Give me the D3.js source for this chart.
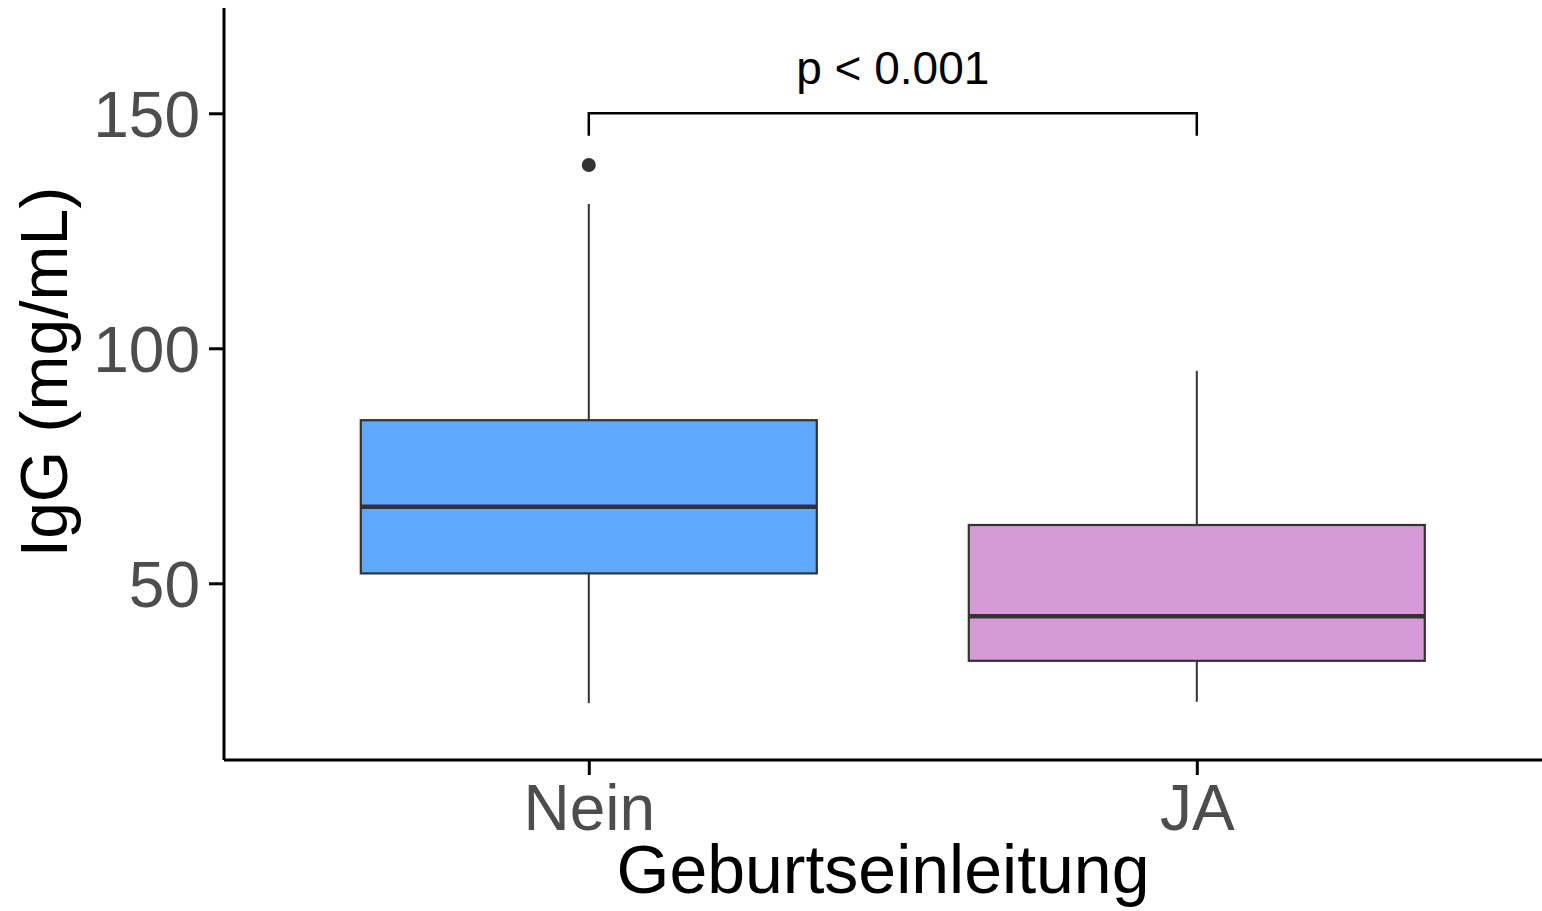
<!DOCTYPE html>
<html>
<head>
<meta charset="utf-8">
<script src="https://cdn.jsdelivr.net/npm/d3@7"></script>
<style>
  body { margin: 0; background: #fff; }
  svg { display: block; font-family: "Liberation Sans", Arial, sans-serif; }
</style>
</head>
<body>
<svg id="chart" width="1542" height="911"></svg>
<script>
// data
var groups = ["Nein", "JA"];
var fills = ["#5EA8FE", "#D69AD6"];
var q1 = [52.1, 33.5];
var median = [66.3, 43.0];
var q3 = [84.7, 62.4];
var whiskerLow = [24.5, 24.8];
var whiskerHigh = [130.7, 95.2];
var outliers = [[139.0], []];
var yTicks = [50, 100, 150];
var pLabel = "p < 0.001";
var bracketY = 150, bracketEnd = 145.2;

var svg = d3.select("#chart");

var x = d3.scalePoint()
  .domain(groups)
  .range([224, 1561.6])
  .padding(0.6);

var y = d3.scaleLinear()
  .domain([12.4, 172.4])
  .range([760, 8]);

var boxW = x.step() * 0.75;

var boxes = groups.map(function(g, i){
  return { g: g, fill: fills[i], q1: q1[i], med: median[i], q3: q3[i],
           lo: whiskerLow[i], hi: whiskerHigh[i], out: outliers[i] };
});

var gBox = svg.selectAll("g.box")
  .data(boxes)
  .enter()
  .append("g")
  .attr("class", "box");

// whiskers
gBox.append("line")
  .attr("x1", function(d){ return x(d.g); })
  .attr("x2", function(d){ return x(d.g); })
  .attr("y1", function(d){ return y(d.hi); })
  .attr("y2", function(d){ return y(d.q3); })
  .attr("stroke", "#333333").attr("stroke-width", 2);
gBox.append("line")
  .attr("x1", function(d){ return x(d.g); })
  .attr("x2", function(d){ return x(d.g); })
  .attr("y1", function(d){ return y(d.q1); })
  .attr("y2", function(d){ return y(d.lo); })
  .attr("stroke", "#333333").attr("stroke-width", 2);

gBox.append("rect")
  .attr("x", function(d){ return x(d.g) - boxW / 2; })
  .attr("width", boxW)
  .attr("y", function(d){ return y(d.q3); })
  .attr("height", function(d){ return y(d.q1) - y(d.q3); })
  .attr("fill", function(d){ return d.fill; })
  .attr("stroke", "#333333")
  .attr("stroke-width", 2.2);

gBox.append("line")
  .attr("x1", function(d){ return x(d.g) - boxW / 2; })
  .attr("x2", function(d){ return x(d.g) + boxW / 2; })
  .attr("y1", function(d){ return y(d.med); })
  .attr("y2", function(d){ return y(d.med); })
  .attr("stroke", "#333333").attr("stroke-width", 4.5);

gBox.selectAll("circle")
  .data(function(d){ return d.out.map(function(v){ return { g: d.g, v: v }; }); })
  .enter()
  .append("circle")
  .attr("cx", function(d){ return x(d.g); })
  .attr("cy", function(d){ return y(d.v); })
  .attr("r", 7)
  .attr("fill", "#333333");

// axes
var yAxis = svg.append("g")
  .attr("transform", "translate(224,0)")
  .call(d3.axisLeft(y).tickValues(yTicks).tickSize(15).tickPadding(9));
var xAxis = svg.append("g")
  .attr("transform", "translate(0,760)")
  .call(d3.axisBottom(x).tickSize(15).tickPadding(8));

[yAxis, xAxis].forEach(function(a){
  a.select(".domain").attr("stroke", "#000").attr("stroke-width", 3);
  a.selectAll(".tick line").attr("stroke", "#000").attr("stroke-width", 3);
  a.selectAll(".tick text")
    .attr("fill", "#4D4D4D")
    .style("font-size", "64px")
    .style("font-family", "'Liberation Sans', Arial, sans-serif");
});
yAxis.select(".domain").attr("d", "M0,8V760");
xAxis.select(".domain").attr("d", "M224,0H1542");
yAxis.selectAll(".tick text").attr("dy", "0.36em");
xAxis.selectAll(".tick text").attr("dy", "0.74em");

// axis titles
svg.append("text")
  .attr("x", 883)
  .attr("y", 893)
  .attr("text-anchor", "middle")
  .style("font-size", "68px")
  .attr("fill", "#000")
  .text("Geburtseinleitung");

svg.append("text")
  .attr("transform", "translate(67,372) rotate(-90)")
  .attr("text-anchor", "middle")
  .style("font-size", "66px")
  .attr("fill", "#000")
  .text("IgG (mg/mL)");

// significance bracket
var x1 = x(groups[0]), x2 = x(groups[1]);
svg.append("path")
  .attr("d", "M" + x1 + "," + y(bracketEnd) + "V" + y(bracketY) + "H" + x2 + "V" + y(bracketEnd))
  .attr("fill", "none")
  .attr("stroke", "#000")
  .attr("stroke-width", 2.5);

svg.append("text")
  .attr("x", (x1 + x2) / 2)
  .attr("y", 84)
  .attr("text-anchor", "middle")
  .style("font-size", "46px")
  .attr("fill", "#000")
  .text(pLabel);
</script>
</body>
</html>
